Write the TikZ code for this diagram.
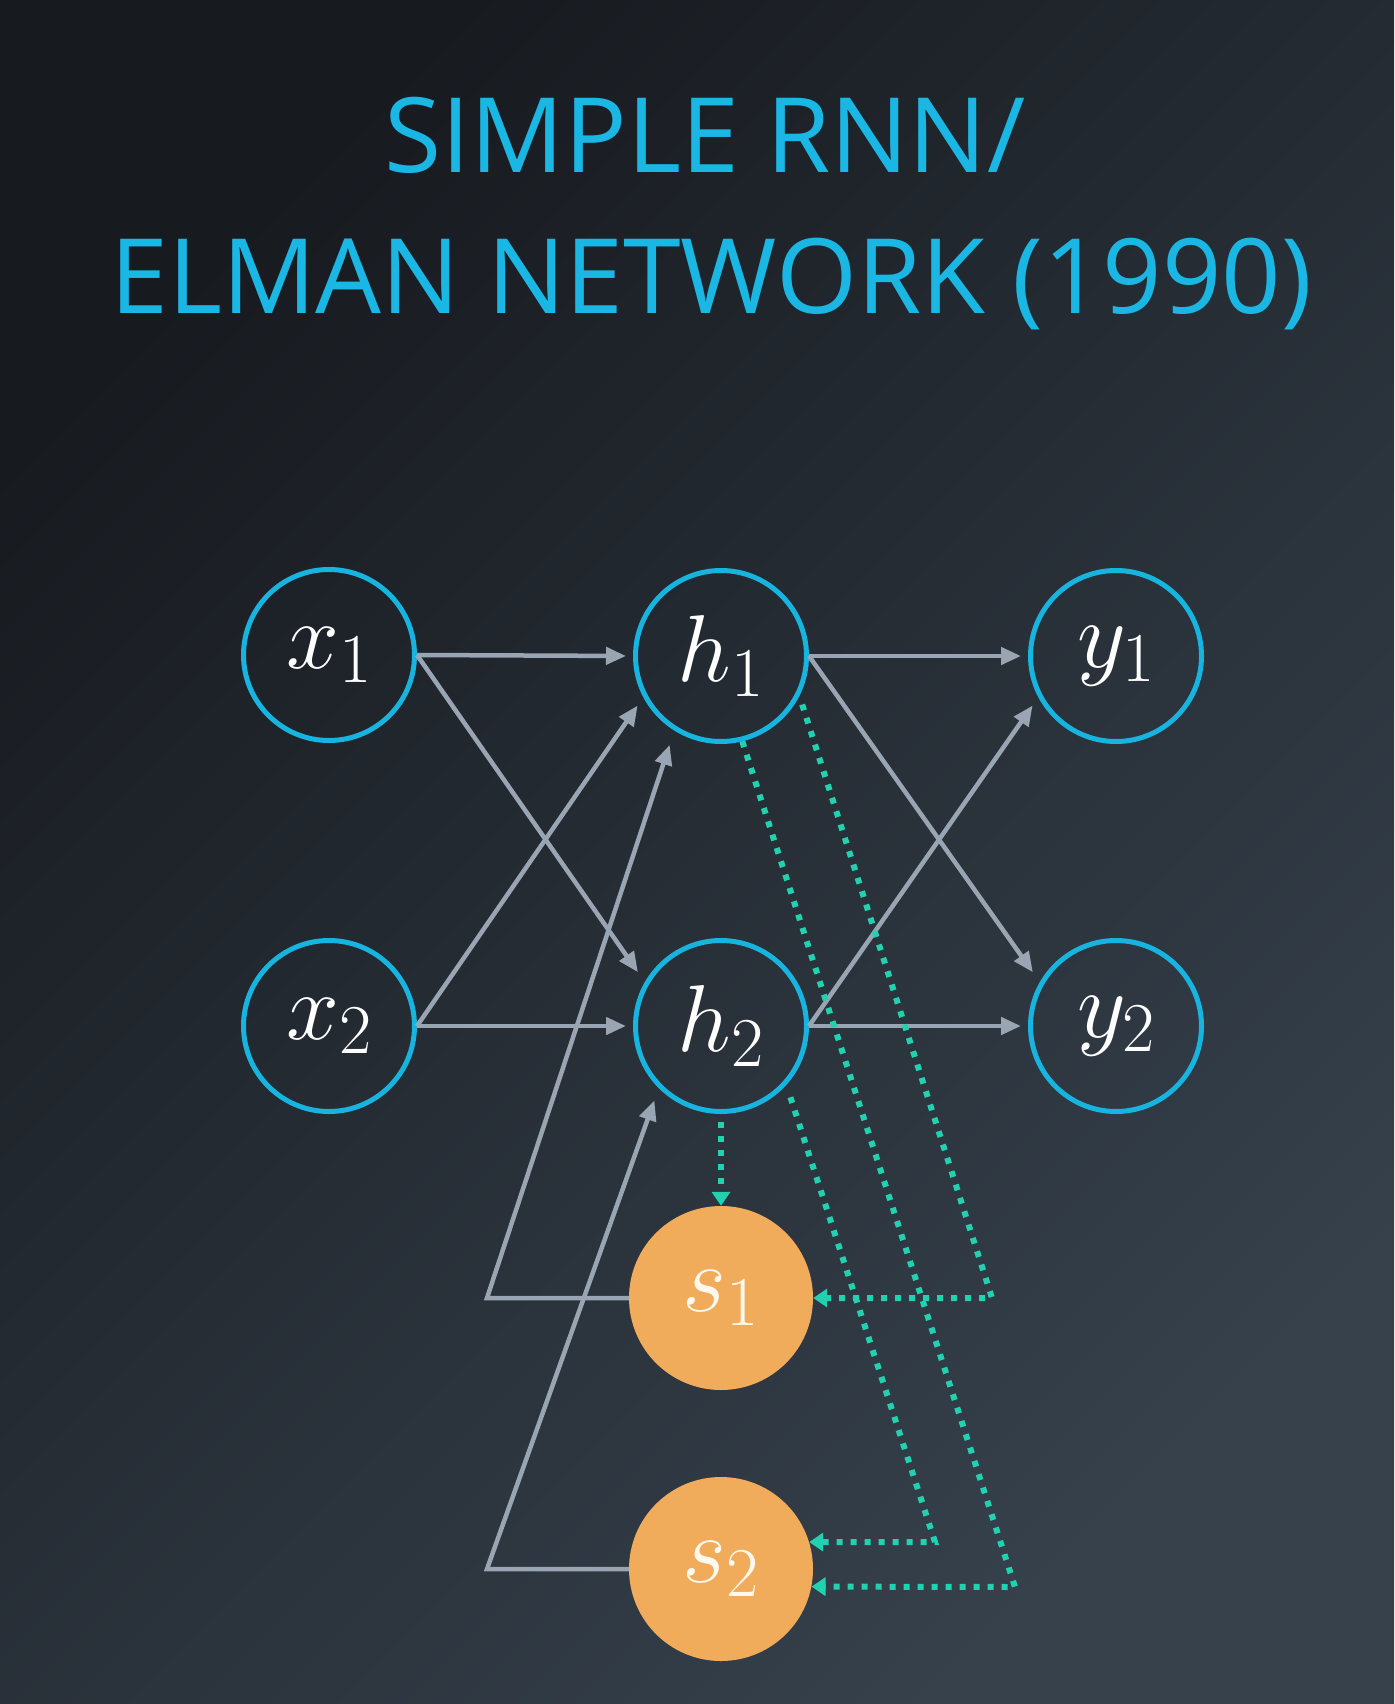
\RequirePackage{fix-cm}
\documentclass[tikz,border=0pt]{standalone}
\usepackage{fontspec}
\newfontfamily\titlefont{Open Sans}
\usetikzlibrary{arrows.meta}
\DeclareMathSizes{95}{95}{70}{55}
\definecolor{bgA}{HTML}{171A1F}
\definecolor{bgB}{HTML}{36414C}
\definecolor{titlecyan}{HTML}{1BB7E4}
\definecolor{ringcyan}{HTML}{17B4E0}
\definecolor{wirecol}{HTML}{99A5B2}
\definecolor{dotteal}{HTML}{22D1B0}
\definecolor{stateorange}{HTML}{F1AC5B}
\definecolor{cream}{HTML}{FFF8EE}
\begin{document}
\begin{tikzpicture}[x=1pt,y=-1pt,
  neuron/.style={circle, draw=ringcyan, line width=5pt, minimum size=171pt, inner sep=0pt,
    text=white, font=\fontsize{95}{100}\selectfont},
  statenode/.style={circle, fill=stateorange, minimum size=184pt, inner sep=0pt,
    text=cream, font=\fontsize{95}{100}\selectfont},
  wire/.style={draw=wirecol, line width=4.5pt, -{Triangle[length=20pt,width=17pt]}},
  copyline/.style={draw=dotteal, line width=6pt, dash pattern=on 6pt off 8pt,
    -{Triangle[length=14pt,width=18pt]}},
  titletext/.style={text=titlecyan, font=\titlefont\fontsize{104}{120}\selectfont, anchor=base, inner sep=0pt}
]
% background
\shade[top color=bgA, bottom color=bgB, shading angle=45] (0,0) rectangle (1394,1704);
\useasboundingbox (0,0) rectangle (1394,1704);

% title
\node[titletext] (t1) at (705,173) {SIMPLE RNN/};
\node[titletext] (t2) at (711,313) {ELMAN NETWORK (1990)};

% nodes
\node[neuron] (x1) at (329,655) {$x_1$};
\node[neuron] (x2) at (329,1026) {$x_2$};
\node[neuron] (h1) at (721,656) {$h_1$};
\node[neuron] (h2) at (721,1026) {$h_2$};
\node[neuron] (y1) at (1116,656) {$y_1$};
\node[neuron] (y2) at (1116,1026) {$y_2$};
\node[statenode] (s1) at (721,1298) {$s_1$};
\node[statenode] (s2) at (721,1569) {$s_2$};

\coordinate (b1) at (487,1298);
\coordinate (b2) at (487,1569);
\coordinate (c1) at (992,1298);
\coordinate (c2) at (935,1542);
\coordinate (c3) at (1015,1587);

% gray connections
\draw[wire, shorten >=7pt] (x1.east) -- (h1.west);
\draw[wire, shorten >=12pt] (x1.east) -- (h2.150);
\draw[wire, shorten >=10pt] (x2.east) -- (h1.208);
\draw[wire, shorten >=7pt] (x2.east) -- (h2.west);
\draw[wire, shorten >=7pt] (h1.east) -- (y1.west);
\draw[wire, shorten >=12pt] (h1.east) -- (y2.150);
\draw[wire, shorten >=10pt] (h2.east) -- (y1.208);
\draw[wire, shorten >=7pt] (h2.east) -- (y2.west);
\draw[wire, shorten >=15pt] (s1.west) -- (b1) -- (h1.238);
\draw[wire, shorten >=13pt] (s2.west) -- (b2) -- (h2.225);

% dotted copy connections
\draw[copyline, shorten <=8pt] (h2.south) -- (s1.north);
\draw[copyline, shorten <=9pt] (h1.-27) -- (c1) -- (s1.east);
\draw[copyline] (h1.-76) -- (c3) -- (s2.-11);
\draw[copyline, shorten <=13pt] (h2.-42) -- (c2) -- (s2.17);
\end{tikzpicture}
\end{document}
